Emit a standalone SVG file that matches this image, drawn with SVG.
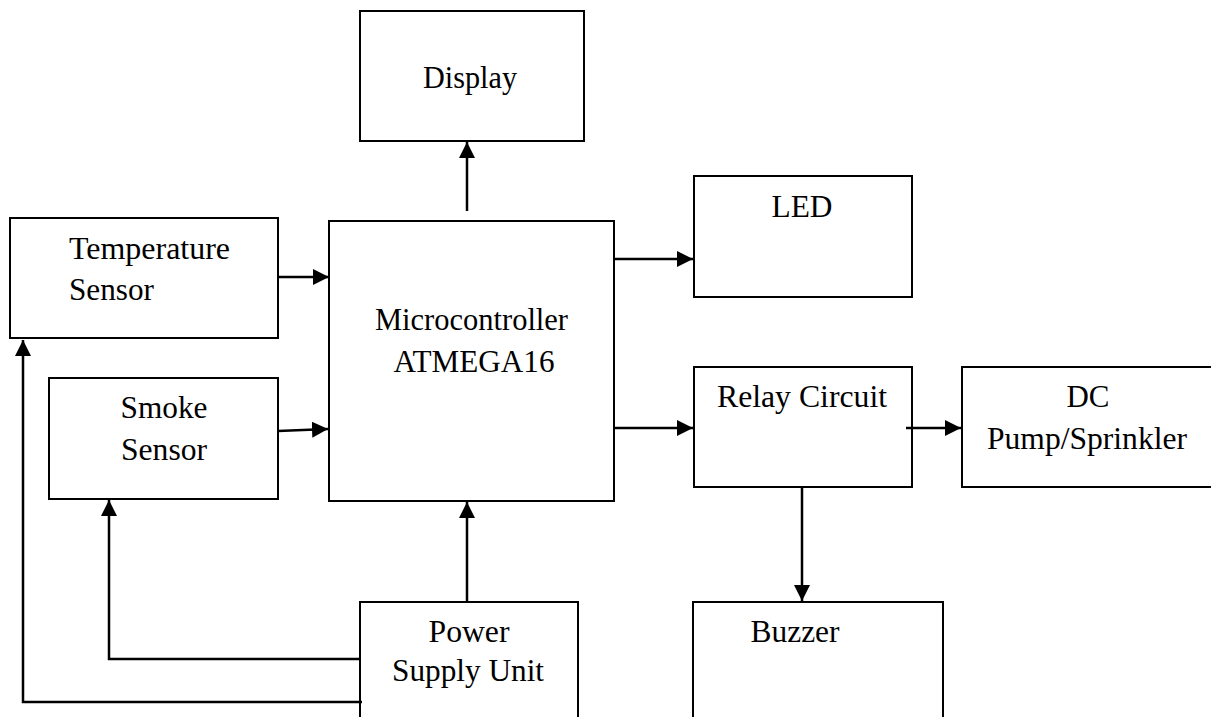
<svg xmlns="http://www.w3.org/2000/svg" width="1211" height="717" viewBox="0 0 1211 717">
<style>
.box{fill:#fff;stroke:#000;stroke-width:2}
.lbl{font-family:"Liberation Serif","Times New Roman",serif;font-size:31px;fill:#000}
.c{text-anchor:middle}
.wire{fill:none;stroke:#000;stroke-width:2.5}
</style>
<defs>
<marker id="ah" markerUnits="userSpaceOnUse" markerWidth="16" markerHeight="16" refX="15" refY="7.5" orient="auto" viewBox="0 0 15 15">
<path d="M0,0 L15,7.5 L0,15 z" fill="#000"/>
</marker>
</defs>
<g id="display"><rect class="box" x="360" y="11" width="224" height="130"/><text class="lbl c" x="470" y="88" textLength="94" lengthAdjust="spacingAndGlyphs">Display</text></g>
<g id="temperature-sensor"><rect class="box" x="10" y="218" width="268" height="120"/><text class="lbl" x="69" y="259" textLength="161" lengthAdjust="spacingAndGlyphs">Temperature</text><text class="lbl" x="69" y="300" textLength="85" lengthAdjust="spacingAndGlyphs">Sensor</text></g>
<g id="smoke-sensor"><rect class="box" x="49" y="378" width="229" height="121"/><text class="lbl c" x="164" y="418" textLength="87" lengthAdjust="spacingAndGlyphs">Smoke</text><text class="lbl c" x="164" y="460" textLength="86" lengthAdjust="spacingAndGlyphs">Sensor</text></g>
<g id="microcontroller"><rect class="box" x="329" y="221" width="285" height="280"/><text class="lbl c" x="471.5" y="330" textLength="193" lengthAdjust="spacingAndGlyphs">Microcontroller</text><text class="lbl c" x="474" y="372" textLength="161" lengthAdjust="spacingAndGlyphs">ATMEGA16</text></g>
<g id="led"><rect class="box" x="694" y="176" width="218" height="121"/><text class="lbl c" x="802" y="217" textLength="61" lengthAdjust="spacingAndGlyphs">LED</text></g>
<g id="relay-circuit"><rect class="box" x="694" y="367" width="218" height="120"/><text class="lbl c" x="802" y="407" textLength="170" lengthAdjust="spacingAndGlyphs">Relay Circuit</text></g>
<g id="dc-pump"><rect class="box" x="962" y="367" width="253" height="120"/><text class="lbl c" x="1088" y="407" textLength="43" lengthAdjust="spacingAndGlyphs">DC</text><text class="lbl c" x="1087" y="449" textLength="200" lengthAdjust="spacingAndGlyphs">Pump/Sprinkler</text></g>
<g id="buzzer"><rect class="box" x="693" y="602" width="250" height="125"/><text class="lbl c" x="795" y="642" textLength="89" lengthAdjust="spacingAndGlyphs">Buzzer</text></g>
<g id="power-supply"><rect class="box" x="360" y="602" width="218" height="125"/><text class="lbl c" x="469" y="642" textLength="81" lengthAdjust="spacingAndGlyphs">Power</text><text class="lbl c" x="468" y="681" textLength="152" lengthAdjust="spacingAndGlyphs">Supply Unit</text></g>
<g id="connectors">
<path class="wire" d="M278,277 L329,277" marker-end="url(#ah)"/>
<path class="wire" d="M278,431 L328,429" marker-end="url(#ah)"/>
<path class="wire" d="M467,211 L467,142" marker-end="url(#ah)"/>
<path class="wire" d="M614,259 L693,259" marker-end="url(#ah)"/>
<path class="wire" d="M614,428 L693,428" marker-end="url(#ah)"/>
<path class="wire" d="M906,428 L961,428" marker-end="url(#ah)"/>
<path class="wire" d="M802,487 L802,601" marker-end="url(#ah)"/>
<path class="wire" d="M467,602 L467,502" marker-end="url(#ah)"/>
<path class="wire" d="M360,659 L109,659 L109,500" marker-end="url(#ah)"/>
<path class="wire" d="M362,702 L23,702 L23,340" marker-end="url(#ah)"/>
</g>
</svg>
